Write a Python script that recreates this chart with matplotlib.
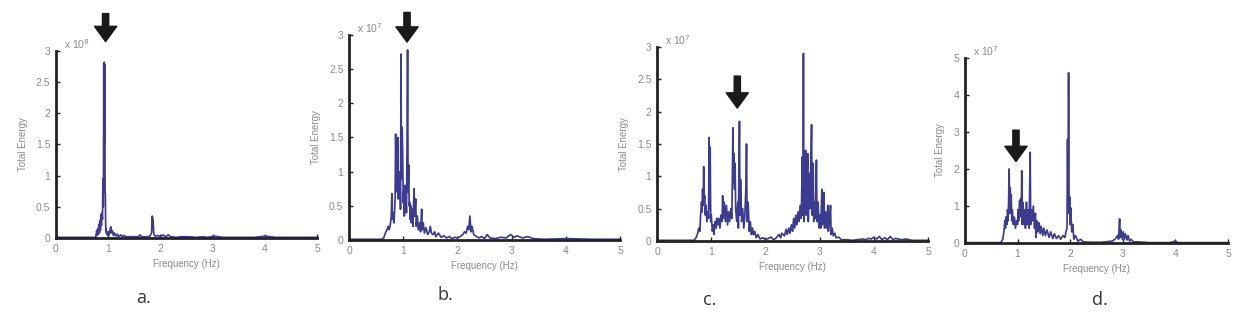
import numpy as np
import matplotlib
matplotlib.use("Agg")
import matplotlib.pyplot as plt

plt.rcParams['font.family'] = ['Liberation Sans', 'DejaVu Sans']

# spectra: (frequency Hz, energy in units of the multiplier)
spec_a = [(0, 0.01), (0.5, 0.01), (0.76, 0.01), (0.78, 0.12), (0.79, 0.04), (0.80, 0.15),
          (0.81, 0.06), (0.82, 0.22), (0.83, 0.08), (0.84, 0.28), (0.85, 0.12), (0.86, 0.38),
          (0.87, 0.2), (0.88, 0.4), (0.89, 0.3), (0.90, 0.95), (0.905, 0.5), (0.91, 0.9),
          (0.915, 2.8), (0.92, 1.2), (0.925, 2.82), (0.93, 1.5), (0.935, 2.78), (0.94, 0.75),
          (0.945, 0.7), (0.95, 0.3), (0.955, 0.1), (0.96, 0.15), (0.97, 0.06), (0.98, 0.08),
          (0.99, 0.04), (1.00, 0.1), (1.02, 0.05), (1.04, 0.15), (1.05, 0.18), (1.06, 0.08),
          (1.08, 0.12), (1.10, 0.04), (1.12, 0.08), (1.15, 0.03), (1.18, 0.06), (1.20, 0.02),
          (1.24, 0.05), (1.27, 0.02), (1.30, 0.04), (1.35, 0.02), (1.40, 0.02), (1.50, 0.02),
          (1.58, 0.02), (1.61, 0.05), (1.64, 0.02), (1.70, 0.02), (1.76, 0.02), (1.80, 0.03),
          (1.83, 0.08), (1.845, 0.35), (1.85, 0.15), (1.86, 0.3), (1.87, 0.1), (1.88, 0.05),
          (1.90, 0.03), (1.95, 0.04), (2.00, 0.02), (2.05, 0.05), (2.10, 0.02), (2.15, 0.05),
          (2.20, 0.02), (2.30, 0.01), (2.40, 0.02), (2.55, 0.02), (2.70, 0.01), (2.80, 0.02),
          (2.90, 0.01), (3.03, 0.03), (3.20, 0.01), (3.50, 0.01), (3.80, 0.01), (4.02, 0.03),
          (4.20, 0.01), (4.60, 0.01), (5.0, 0.01)]

spec_b = [(0, 0.01), (0.6, 0.01), (0.64, 0.03), (0.67, 0.1), (0.7, 0.15), (0.72, 0.2),
          (0.74, 0.15), (0.76, 0.22), (0.78, 0.35), (0.79, 0.68), (0.8, 0.3), (0.82, 0.4),
          (0.83, 0.25), (0.85, 0.6), (0.86, 1.55), (0.87, 0.9), (0.88, 1.05), (0.89, 0.7),
          (0.9, 1.5), (0.91, 0.6), (0.92, 1.0), (0.93, 0.75), (0.94, 0.9), (0.95, 0.45),
          (0.96, 2.72), (0.965, 0.9), (0.97, 1.0), (0.98, 1.65), (0.99, 1.2), (1.0, 0.55),
          (1.01, 0.7), (1.02, 0.35), (1.03, 0.8), (1.04, 0.5), (1.05, 0.6), (1.06, 0.4),
          (1.07, 1.35), (1.08, 2.78), (1.09, 0.7), (1.1, 1.1), (1.11, 0.5), (1.12, 0.55),
          (1.13, 0.3), (1.14, 0.5), (1.15, 0.25), (1.17, 0.45), (1.18, 0.2), (1.2, 0.75),
          (1.21, 0.35), (1.23, 0.6), (1.24, 0.2), (1.26, 0.35), (1.28, 0.15), (1.3, 0.25),
          (1.32, 0.12), (1.34, 0.45), (1.35, 0.15), (1.37, 0.25), (1.39, 0.1), (1.42, 0.18),
          (1.45, 0.08), (1.48, 0.12), (1.5, 0.2), (1.52, 0.1), (1.55, 0.08), (1.58, 0.12),
          (1.6, 0.05), (1.65, 0.1), (1.7, 0.04), (1.75, 0.06), (1.8, 0.03), (1.85, 0.05),
          (1.9, 0.02), (1.95, 0.04), (2.0, 0.03), (2.05, 0.05), (2.1, 0.08), (2.13, 0.12),
          (2.16, 0.1), (2.19, 0.2), (2.21, 0.15), (2.23, 0.35), (2.25, 0.12), (2.27, 0.2),
          (2.3, 0.08), (2.35, 0.05), (2.4, 0.03), (2.45, 0.05), (2.5, 0.02), (2.55, 0.08),
          (2.6, 0.03), (2.7, 0.02), (2.8, 0.04), (2.9, 0.03), (2.98, 0.08), (3.05, 0.04),
          (3.1, 0.06), (3.2, 0.03), (3.3, 0.05), (3.4, 0.02), (3.6, 0.01), (4.0, 0.02),
          (4.5, 0.01), (5.0, 0.01)]

spec_c = [(0, 0.01), (0.68, 0.01), (0.72, 0.05), (0.75, 0.12), (0.77, 0.2), (0.79, 0.15),
          (0.8, 0.35), (0.82, 0.6), (0.83, 0.45), (0.84, 0.8), (0.85, 0.55), (0.86, 1.15),
          (0.87, 0.65), (0.88, 0.7), (0.89, 0.4), (0.9, 0.55), (0.92, 0.3), (0.94, 0.45),
          (0.95, 0.35), (0.96, 1.6), (0.97, 0.5), (0.98, 1.45), (0.99, 0.3), (1.0, 0.4),
          (1.02, 0.15), (1.04, 0.25), (1.05, 0.1), (1.07, 0.3), (1.09, 0.2), (1.1, 0.35),
          (1.12, 0.25), (1.14, 0.35), (1.16, 0.2), (1.18, 0.4), (1.2, 0.3), (1.21, 0.7),
          (1.22, 0.35), (1.24, 0.6), (1.26, 0.3), (1.28, 0.55), (1.3, 0.25), (1.32, 0.45),
          (1.34, 0.3), (1.36, 0.5), (1.38, 0.35), (1.4, 1.75), (1.41, 0.9), (1.42, 1.35),
          (1.43, 0.8), (1.44, 1.2), (1.45, 0.5), (1.47, 0.3), (1.49, 0.6), (1.5, 0.2),
          (1.52, 1.85), (1.53, 0.4), (1.54, 0.95), (1.56, 0.3), (1.58, 0.5), (1.6, 0.2),
          (1.62, 0.4), (1.64, 0.85), (1.65, 1.5), (1.66, 0.3), (1.68, 0.6), (1.7, 0.15),
          (1.72, 0.3), (1.74, 0.1), (1.76, 0.2), (1.78, 0.1), (1.8, 0.15), (1.83, 0.05),
          (1.86, 0.1), (1.9, 0.03), (1.95, 0.05), (2.0, 0.02), (2.05, 0.04), (2.1, 0.06),
          (2.15, 0.02), (2.2, 0.05), (2.25, 0.1), (2.28, 0.05), (2.3, 0.12), (2.35, 0.08),
          (2.38, 0.18), (2.4, 0.1), (2.43, 0.2), (2.45, 0.12), (2.48, 0.25), (2.5, 0.15),
          (2.52, 0.35), (2.54, 0.2), (2.56, 0.4), (2.58, 0.25), (2.6, 0.45), (2.62, 0.3),
          (2.64, 0.55), (2.66, 0.35), (2.68, 1.3), (2.69, 0.4), (2.7, 2.9), (2.71, 0.3),
          (2.72, 0.6), (2.74, 1.4), (2.75, 0.4), (2.76, 0.8), (2.78, 1.35), (2.79, 0.3),
          (2.8, 1.05), (2.82, 0.5), (2.83, 0.9), (2.85, 1.8), (2.86, 0.4), (2.87, 0.85),
          (2.88, 1.2), (2.89, 0.3), (2.9, 0.6), (2.92, 0.35), (2.94, 1.25), (2.95, 0.3),
          (2.97, 0.6), (2.99, 0.2), (3.0, 0.4), (3.02, 0.2), (3.04, 0.8), (3.05, 0.25),
          (3.07, 0.5), (3.08, 0.75), (3.09, 0.2), (3.11, 0.45), (3.13, 0.2), (3.15, 0.55),
          (3.16, 0.15), (3.18, 0.3), (3.2, 0.55), (3.21, 0.1), (3.23, 0.2), (3.25, 0.08),
          (3.28, 0.12), (3.3, 0.05), (3.35, 0.06), (3.4, 0.02), (3.5, 0.02), (3.6, 0.01),
          (3.7, 0.02), (3.8, 0.03), (3.85, 0.02), (3.9, 0.04), (3.95, 0.03), (4.0, 0.06),
          (4.05, 0.03), (4.1, 0.07), (4.15, 0.02), (4.2, 0.05), (4.25, 0.02), (4.3, 0.07),
          (4.35, 0.02), (4.4, 0.04), (4.5, 0.02), (4.6, 0.03), (4.7, 0.01), (5.0, 0.01)]

spec_d = [(0, 0.01), (0.68, 0.01), (0.72, 0.1), (0.74, 0.3), (0.76, 0.6), (0.77, 0.4),
          (0.78, 0.7), (0.8, 0.5), (0.81, 0.9), (0.82, 0.6), (0.83, 1.1), (0.84, 2.0),
          (0.85, 0.8), (0.86, 1.5), (0.87, 1.0), (0.88, 1.3), (0.89, 0.6), (0.9, 0.9),
          (0.92, 0.5), (0.94, 0.7), (0.96, 0.4), (0.98, 0.6), (1.0, 0.5), (1.01, 0.9),
          (1.02, 0.6), (1.04, 1.15), (1.05, 0.8), (1.06, 1.2), (1.07, 0.7), (1.08, 1.95),
          (1.09, 0.5), (1.1, 1.1), (1.12, 0.5), (1.14, 0.9), (1.15, 0.4), (1.17, 1.1),
          (1.18, 0.5), (1.2, 0.9), (1.22, 0.4), (1.24, 2.45), (1.25, 0.5), (1.26, 0.9),
          (1.28, 0.6), (1.3, 1.0), (1.32, 0.4), (1.34, 0.8), (1.35, 0.15), (1.37, 0.6),
          (1.39, 0.3), (1.41, 0.55), (1.43, 0.25), (1.45, 0.45), (1.48, 0.2), (1.5, 0.4),
          (1.53, 0.2), (1.56, 0.35), (1.6, 0.15), (1.63, 0.3), (1.67, 0.12), (1.7, 0.25),
          (1.74, 0.12), (1.78, 0.2), (1.82, 0.1), (1.86, 0.2), (1.9, 0.15), (1.92, 0.3),
          (1.94, 0.4), (1.95, 2.8), (1.96, 1.0), (1.97, 4.6), (1.98, 0.8), (1.99, 1.25),
          (2.0, 0.5), (2.01, 0.95), (2.03, 0.3), (2.05, 0.5), (2.07, 0.1), (2.1, 0.2),
          (2.15, 0.05), (2.2, 0.1), (2.25, 0.03), (2.4, 0.02), (2.6, 0.02), (2.8, 0.05),
          (2.85, 0.1), (2.9, 0.2), (2.92, 0.1), (2.94, 0.65), (2.95, 0.15), (2.97, 0.35),
          (2.99, 0.1), (3.01, 0.3), (3.03, 0.1), (3.05, 0.25), (3.08, 0.08), (3.1, 0.2),
          (3.13, 0.05), (3.16, 0.1), (3.2, 0.03), (3.3, 0.03), (3.5, 0.01), (3.9, 0.01),
          (4.0, 0.05), (4.05, 0.01), (4.5, 0.01), (5.0, 0.01)]

spectra = [spec_a, spec_b, spec_c, spec_d]
exponents = [8, 7, 7, 7]
y_limits = [3, 3, 3, 5]
y_ticks = [[0, 0.5, 1, 1.5, 2, 2.5, 3], [0, 0.5, 1, 1.5, 2, 2.5, 3],
           [0, 0.5, 1, 1.5, 2, 2.5, 3], [0, 1, 2, 3, 4, 5]]
x_ticks = [0, 1, 2, 3, 4, 5]
panel_labels = ['a.', 'b.', 'c.', 'd.']
arrow_freq = [0.95, 1.07, 1.48, 0.97]
# arrow tip / tail height as axes fraction
arrow_tip = [1.05, 0.965, 0.685, 0.44]
arrow_tail = [1.2, 1.11, 0.85, 0.61]

# axes boxes [left, bottom, width, height] in figure fraction
boxes = [[0.0453, 0.2372, 0.2112, 0.5994],
         [0.2824, 0.2308, 0.2192, 0.6571],
         [0.5316, 0.2276, 0.2193, 0.6218],
         [0.7807, 0.2212, 0.2128, 0.5930]]
label_pos = [(0.116, 0.045), (0.360, 0.055), (0.574, 0.04), (0.890, 0.04)]

line_col = '#3b3b92'
gray = '#8a8a8a'

fig = plt.figure(figsize=(12.36, 3.12), dpi=100)
for i in range(4):
    ax = fig.add_axes(boxes[i])
    f, e = np.array(spectra[i]).T
    ax.plot(f, e, color=line_col, lw=1.25)
    ax.set_xlim(0, 5)
    ax.set_ylim(0, y_limits[i])
    ax.set_xticks(x_ticks)
    ax.set_yticks(y_ticks[i])
    ax.set_yticklabels([('%g' % t) for t in y_ticks[i]])
    for s in ['top', 'right']:
        ax.spines[s].set_visible(False)
    for s in ['left', 'bottom']:
        ax.spines[s].set_linewidth(2)
        ax.spines[s].set_color('#222222')
    ax.tick_params(direction='in', length=3, width=1, colors='#222222',
                   labelcolor=gray, labelsize=7.5, pad=4)
    ax.set_xlabel('Frequency (Hz)', fontsize=7, color=gray, labelpad=4)
    ax.set_ylabel('Total Energy', fontsize=7, color=gray, labelpad=6)
    ax.text(0.03, 1.0, r'x 10$^{%d}$' % exponents[i], transform=ax.transAxes,
            fontsize=7.5, color=gray, va='bottom', ha='left')
    ax.annotate('', xy=(arrow_freq[i], arrow_tip[i]), xytext=(arrow_freq[i], arrow_tail[i]),
                xycoords=('data', 'axes fraction'), textcoords=('data', 'axes fraction'),
                annotation_clip=False,
                arrowprops=dict(facecolor='#1a1a1a', edgecolor='#1a1a1a', width=4.5,
                                headwidth=16, headlength=11, shrink=0))
    fig.text(label_pos[i][0], label_pos[i][1], panel_labels[i], fontsize=13,
             color='#333333', family='Open Sans', ha='center', va='center')

fig.savefig('out.png', dpi=100)
